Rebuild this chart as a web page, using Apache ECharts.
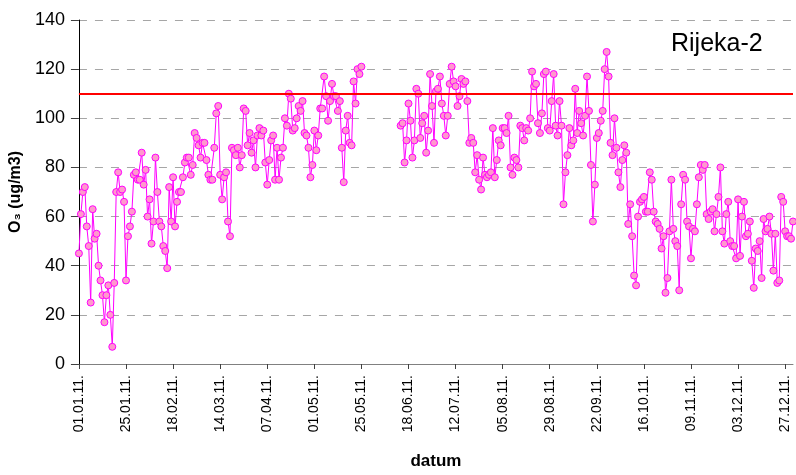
<!DOCTYPE html>
<html>
<head>
<meta charset="utf-8">
<script src="https://cdn.jsdelivr.net/npm/echarts@6/dist/echarts.min.js"></script>
<style>html,body{margin:0;padding:0;background:#fff;}#c{width:796px;height:475px;}</style>
</head>
<body>
<div id="c"></div>
<script>
// values for days 1 Jan – 24 May 2011 (days 0–144)
const seg1 = [45,61,70,72,56,48,25,63,51,53,40,34,28,17,28,32,20,7,33,70,78,70,71,66,34,52,56,62,77,78,75,75,86,73,79,60,67,49,58,84,70,58,56,48,46,39,72,58,76,56,66,70,
70,76,82,84,84,77,81,94,92,89,84,90,90,83,77,75,75,88,102,105,77,67,76,78,58,52,88,87,85,88,80,85,104,103,89,94,86,91,80,93,96,93,95,82,73,83,91,93,
75,88,75,84,88,100,97,110,108,95,96,100,105,103,107,94,93,88,76,81,95,87,93,104,104,117,109,99,107,114,109,109,103,107,88,74,95,101,90,89,115,106,120,118,121];
// missing days (gap in the measurements)
const gapDays = 19;
// values for days 164–364
const seg2 = [97,98,82,91,106,99,84,91,112,110,92,98,101,86,95,118,105,90,111,112,117,106,101,93,101,114,121,115,113,105,109,116,114,115,107,90,92,90,78,85,75,71,84,77,
76,77,78,96,76,83,91,89,96,96,94,101,80,77,84,83,80,97,96,91,96,95,100,119,113,114,98,94,102,118,119,96,95,107,118,97,93,107,97,65,78,85,96,89,91,112,94,103,98,93,101,117,
103,81,58,73,92,94,99,103,120,127,117,90,85,100,88,78,72,83,89,86,57,65,52,36,32,60,66,67,68,62,62,78,75,62,58,57,55,47,52,29,35,54,75,55,50,48,30,
65,77,75,58,56,
43,55,54,65,76,81,79,81,61,59,62,63,54,61,68,80,54,49,61,66,50,48,48,43,67,44,60,66,52,53,58,42,31,47,46,50,35,59,54,55,60,53,38,53,33,34,68,66,54,52,52,51,58];
const limitValue = 110;
const yTicks = [0,20,40,60,80,100,120,140];

// categories: every day of 2011
const dates = [];
for (let d = new Date(Date.UTC(2011,0,1)); d.getUTCFullYear() === 2011; d.setUTCDate(d.getUTCDate()+1)) {
  const dd = String(d.getUTCDate()).padStart(2,'0');
  const mm = String(d.getUTCMonth()+1).padStart(2,'0');
  dates.push(dd + '.' + mm + '.11.');
}
const values = seg1.concat(new Array(gapDays).fill(null), seg2);

const FONT = '"Liberation Sans", Arial, sans-serif';
const chart = echarts.init(document.getElementById('c'), null, {renderer:'canvas'});
chart.setOption({
  animation: false,
  backgroundColor: '#ffffff',
  title: {
    text: 'Rijeka-2', left: 666, top: 27,
    textStyle: {fontFamily: FONT, fontSize: 25, fontWeight: 'normal', color: '#000'}
  },
  grid: {left: 77, right: 3, top: 20, bottom: 105, containLabel: false},
  xAxis: {
    type: 'category', data: dates, boundaryGap: false,
    name: 'datum', nameLocation: 'middle', nameGap: 89,
    nameTextStyle: {fontFamily: FONT, fontSize: 17, fontWeight: 'bold', color: '#000'},
    axisLine: {lineStyle: {color: '#808080', width: 1}},
    axisTick: {show: true, interval: 23, length: 5, lineStyle: {color: '#404040'}},
    axisLabel: {interval: 23, rotate: 90, fontFamily: FONT, fontSize: 14, color: '#000', margin: 11},
    splitLine: {show: false}
  },
  yAxis: {
    type: 'value', min: yTicks[0], max: yTicks[yTicks.length-1], interval: 20,
    name: 'O₃ (ug/m3)', nameLocation: 'middle', nameGap: 41,
    nameTextStyle: {fontFamily: FONT, fontSize: 16, fontWeight: 'bold', color: '#000'},
    axisLine: {show: true, lineStyle: {color: '#000', width: 1}},
    axisTick: {show: true, length: 8, lineStyle: {color: '#404040'}},
    axisLabel: {fontFamily: FONT, fontSize: 18, color: '#000', margin: 14},
    splitLine: {show: true, lineStyle: {color: '#A6A6A6', type: [8, 8], width: 1}}
  },
  series: [{
    type: 'line', data: values, connectNulls: false,
    symbol: 'circle', symbolSize: 7, showAllSymbol: true,
    lineStyle: {color: '#FF00FF', width: 1},
    itemStyle: {color: '#FF99CC', borderColor: '#FF00FF', borderWidth: 1},
    markLine: {
      silent: true, symbol: 'none', label: {show: false},
      lineStyle: {color: '#FF0000', width: 2, type: 'solid'},
      data: [{yAxis: limitValue}]
    }
  }]
});
</script>
</body>
</html>
